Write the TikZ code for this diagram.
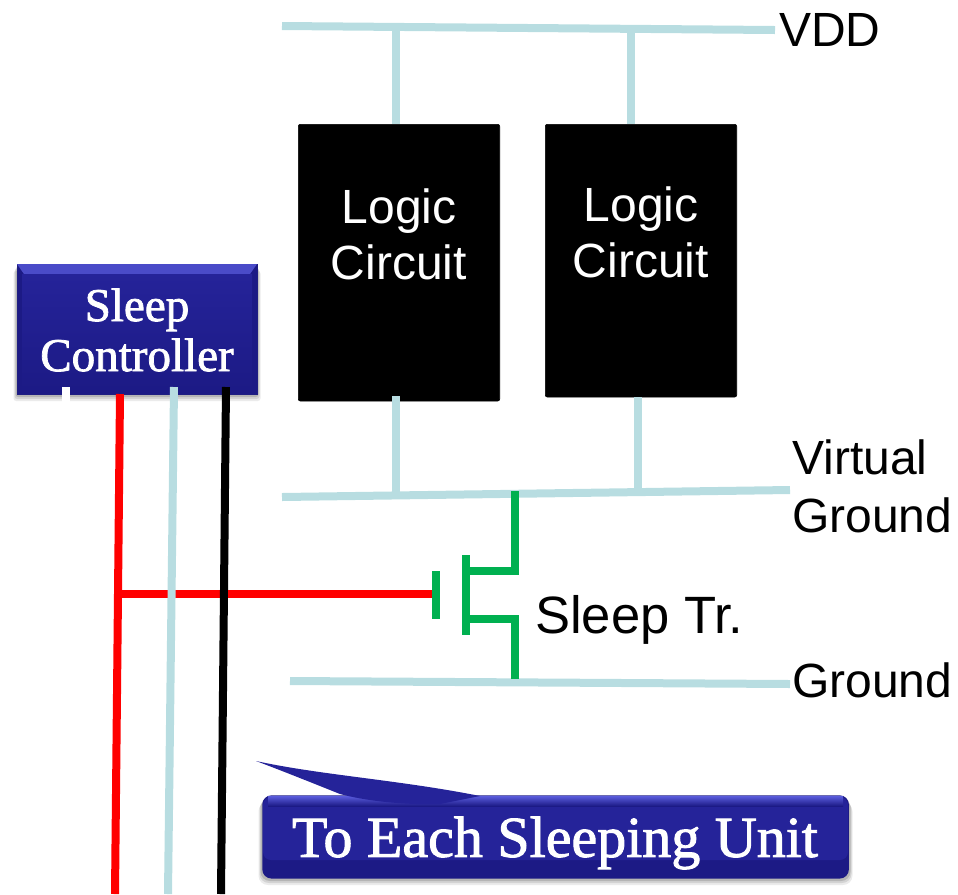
\documentclass[tikz,border=0pt]{standalone}
\usepackage{fontspec}
\setmainfont{Liberation Sans}
\newfontfamily\serifface[FakeBold=1.6]{Liberation Serif}
\usetikzlibrary{calc}
\definecolor{railblue}{HTML}{B8DDE1}
\definecolor{tgreen}{HTML}{00B050}
\definecolor{navy}{HTML}{252399}
\definecolor{navydark}{HTML}{1C1A85}
\definecolor{navylight}{HTML}{5A5CDC}
\tikzset{
  x=0.75pt,y=-0.75pt,
  rail/.style={draw=railblue,line width=6pt},
  wire/.style={line width=6pt},
  gatewire/.style={draw=tgreen,line width=6pt},
  logicbox/.style={fill=black,draw=black,rounded corners=1.5pt,line width=0.5pt},
  logictext/.style={text=white,align=center,inner sep=0pt,font=\fontsize{36}{42}\selectfont},
  lab/.style={text=black,anchor=base west,inner sep=0pt,font=\fontsize{36}{43.5}\selectfont},
  ctrltext/.style={text=white,align=center,inner sep=0pt,font=\serifface\fontsize{35.3}{37.5}\selectfont},
}
\begin{document}
\begin{tikzpicture}
\useasboundingbox (0,0) rectangle (958,894);
% rail end points
\coordinate (vddL) at (282,26);   \coordinate (vddR) at (775,30);
\coordinate (vgL) at (282,497);   \coordinate (vgR) at (790,490);
\coordinate (gL) at (290,681);    \coordinate (gR) at (790,684);
\coordinate (vdd1) at (396,27);   \coordinate (vdd2) at (631,29);
\coordinate (vg1) at (396,495);   \coordinate (vg2) at (638,492);
% logic blocks
\node[logicbox,minimum width=151pt,minimum height=207.5pt,anchor=north west] (lc1) at (298,124) {};
\node[logicbox,minimum width=143.5pt,minimum height=204.5pt,anchor=north west] (lc2) at (545,124) {};
\node[logictext] (lc1t) at (399,234) {Logic\\Circuit};
\node[logictext] (lc2t) at (641,232) {Logic\\Circuit};
% rails
\draw[rail] (vddL) -- (vddR);
\draw[rail] (vgL) -- (vgR);
\draw[rail] (gL) -- (gR);
\draw[rail] (vdd1) -- (vdd1 |- lc1.north);
\draw[rail] (vdd2) -- (vdd2 |- lc2.north);
\draw[rail] (vg1) -- ($(vg1 |- lc1.south)+(0,-5)$);
\draw[rail] (vg2) -- (vg2 |- lc2.south);
% controller box
\foreach \o/\a in {7/0.08,5/0.10,3/0.14}{
  \fill[black,opacity=\a,rounded corners=2pt] (17-\o/2,264+\o) rectangle (257+\o/2,394+\o);
}
\node[minimum width=180pt,minimum height=97.5pt,anchor=north west,inner sep=0pt,
      fill=navydark,draw=navy!85!black,line width=0.5pt] (ctrl) at (17,264) {};
\fill[navylight!70!navy] (17,264) -- (257,264) -- (250,274) -- (24,274) -- cycle;
\shade[top color=navy,bottom color=navydark] (22,274) rectangle (252,392);
\node[ctrltext] (ctrlt) at (137,330) {Sleep\\Controller};
% controller wires
\coordinate (rTop) at (120,394);  \coordinate (rBot) at (115,894);
\coordinate (bTop) at (174,387);  \coordinate (bBot) at (168,894);
\coordinate (kTop) at (226,387);  \coordinate (kBot) at (221,894);
\coordinate (wTop) at (66,387);   \coordinate (wBot) at (66,405);
\coordinate (rJoin) at (119,594);
\draw[white,wire] (wTop) -- (wBot);
\draw[red,wire] (rTop) -- (rBot);
% transistor
\coordinate (gateC) at (436,594);
\coordinate (gateT) at (436,571); \coordinate (gateB) at (436,619);
\coordinate (chT) at (466,555);   \coordinate (chB) at (466,635);
\coordinate (dTop) at (515,491);  \coordinate (dMid) at (515,571);
\coordinate (sMid) at (515,619);  \coordinate (sBot) at (515,679);
\draw[red,wire] (rJoin) -- (gateC);
\draw[railblue,wire] (bTop) -- (bBot);
\draw[black,wire] (kTop) -- (kBot);
\draw[gatewire] (gateT) -- (gateB);
\draw[draw=tgreen,line width=6.5pt] (chT) -- (chB);
\draw[gatewire,line join=miter] (dTop) -- (dMid) -- (chT |- dMid);
\draw[gatewire,line join=miter] (sBot) -- (sMid) -- (chT |- sMid);
% labels
\node[lab] (vddl) at (779,46) {VDD};
\node[lab,align=left,anchor=north west] (vgl) at (792,439) {Virtual\\Ground};
\node[lab] (gl) at (792,697) {Ground};
\node[lab,font=\fontsize{39.4}{45}\selectfont] (stl) at (535,633) {Sleep Tr.};
% callout
\foreach \o/\a in {7/0.08,5/0.10,3/0.14}{
  \fill[black,opacity=\a,rounded corners=7pt] (262-\o/2,795+\o) rectangle (849+\o/2,878+\o);
}
\node[minimum width=440pt,minimum height=62.5pt,anchor=north west,inner sep=0pt,rounded corners=7pt,
      fill=navydark] (call) at (262,795) {};
\fill[navy,rounded corners=6pt] (263,797) rectangle (848,860);
\shade[top color=navylight,bottom color=navydark] (268,796) rectangle (843,806);
\fill[navy] (256,761) .. controls (320,775) and (400,780) .. (480,796) -- (440,804) .. controls (410,805) and (370,802) .. (340,794) .. controls (310,782) and (280,770) .. cycle;
\node[text=white,inner sep=0pt,font=\serifface\fontsize{43.5}{50}\selectfont] (callt) at (555,843) {To Each Sleeping Unit};
\end{tikzpicture}
\end{document}
